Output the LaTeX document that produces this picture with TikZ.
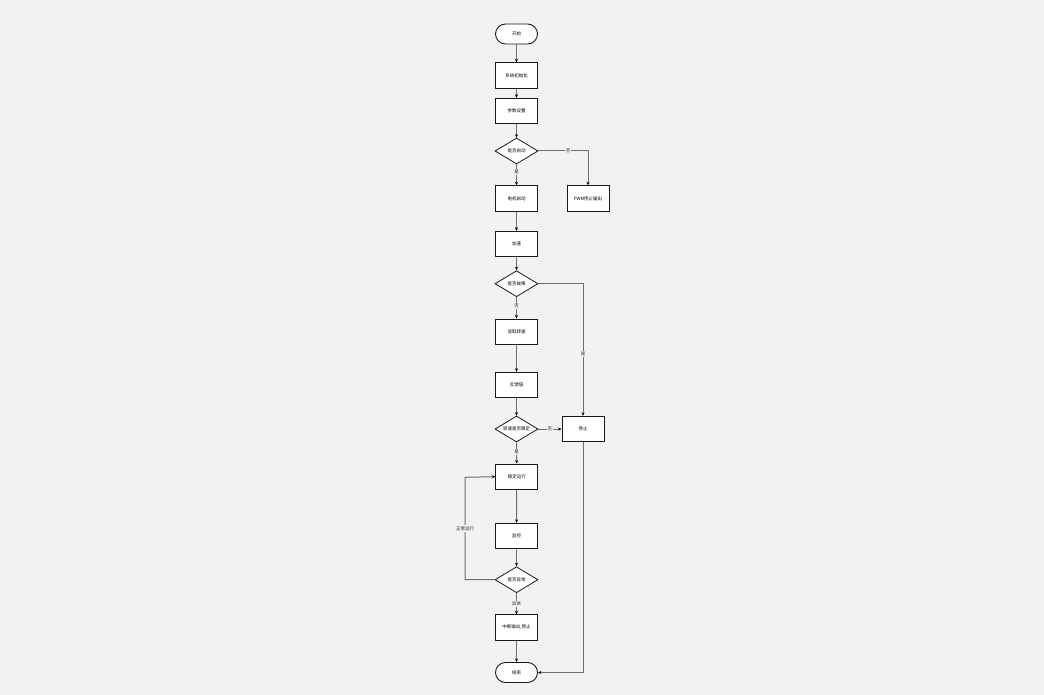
\documentclass[tikz,border=0pt]{standalone}
\usepackage{fontspec}
\newfontfamily\cjk{Noto Sans CJK SC}
\usetikzlibrary{shapes.geometric,arrows.meta}
\definecolor{bg}{RGB}{242,242,245}
\definecolor{conn}{RGB}{110,110,110}
\tikzset{
  every node/.style={font=\cjk\fontsize{4.5}{5}\selectfont},
  procbox/.style={draw=black!90, line width=0.9pt, fill=white, minimum width=42pt, minimum height=25.5pt, inner sep=1pt},
  term/.style={draw=black!90, line width=0.9pt, fill=white, minimum width=42pt, minimum height=20pt, rounded corners=10pt, inner sep=1pt},
  decis/.style={draw=black!90, line width=0.8pt, fill=white, shape=diamond, shape aspect=1.65, minimum width=43pt, minimum height=26pt, inner sep=0pt},
  conline/.style={draw=conn, line width=1pt, -{Stealth[length=3.5pt,width=3pt,color=black]}},
  lbl/.style={fill=bg, inner sep=1pt, text=black!85}
}
\begin{document}
\begin{tikzpicture}[x=1pt,y=-1pt]
\fill[bg] (0,0) rectangle (1044,695);
\useasboundingbox (0,0) rectangle (1044,695);
\node[term] (start) at (516.5,34) {开始};
\node[procbox] (b1) at (516.5,75.5) {系统初始化};
\node[procbox] (b2) at (516.5,111) {参数设置};
\node[decis] (d1) at (516.5,151) {是否启动};
\node[procbox] (b3) at (516.5,198.5) {电机启动};
\node[procbox] (r1) at (588,198.5) {PWM停止输出};
\node[procbox] (b4) at (516.5,244) {加速};
\node[decis] (d2) at (516.5,283.7) {是否故障};
\node[procbox] (b5) at (516.5,331.7) {读取转速};
\node[procbox] (b6) at (516.5,385) {反馈值};
\node[decis] (d3) at (516.5,429) {转速是否稳定};
\node[procbox] (stop) at (583,429) {停止};
\node[procbox] (b7) at (516.8,476.7) {稳定运行};
\node[procbox] (b8) at (516.5,536) {监控};
\node[decis] (d4) at (516.5,579.7) {是否异常};
\node[procbox] (b9) at (516.5,627.5) {中断输出,停止};
\node[term] (end) at (516.5,672.5) {结束};
\coordinate (c1) at (588,151);
\coordinate (c2) at (583,283.7);
\coordinate (c3) at (465,579.7);
\coordinate (c4) at (465,477.3);
\coordinate (c5) at (583,672.5);
\draw[conline] (start) -- (b1);
\draw[conline] (b1) -- (b2);
\draw[conline] (b2) -- (d1);
\draw[conline] (d1) -- node[lbl, pos=0.35] {是} (b3);
\draw[conline] (d1.east) -- node[lbl, pos=0.6] {否} (c1) -- (r1.north);
\draw[conline] (b3) -- (b4);
\draw[conline] (b4) -- (d2);
\draw[conline] (d2) -- node[lbl, pos=0.4] {否} (b5);
\draw[conline] (d2.east) -- (c2) -- node[lbl, pos=0.53] {是} (stop.north);
\draw[conline] (b5) -- (b6);
\draw[conline] (b6) -- (d3);
\draw[conline] (d3) -- node[lbl, pos=0.5] {否} (stop);
\draw[conline] (d3) -- node[lbl, pos=0.45] {是} (b7);
\draw[conline] (b7) -- (b8);
\draw[conline] (b8) -- (d4);
\draw[conline] (d4.west) -- (c3) -- node[lbl, pos=0.5] {正常运行} (c4) -- (b7.west);
\draw[conline] (d4) -- node[lbl, pos=0.5] {异常} (b9);
\draw[conline] (b9) -- (end);
\draw[conline] (stop.south) -- (c5) -- (end.east);
\end{tikzpicture}
\end{document}
